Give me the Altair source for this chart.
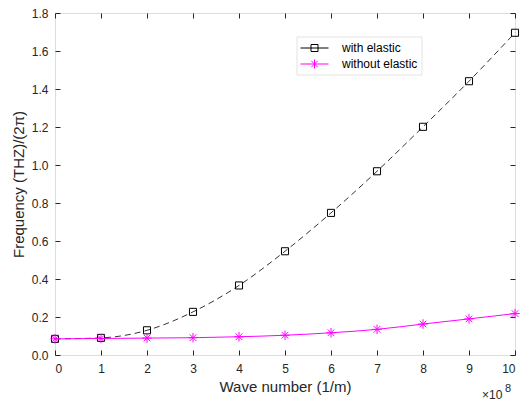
import altair as alt
import pandas as pd

# ---- data ----
wave_number = [0, 1, 2, 3, 4, 5, 6, 7, 8, 9, 10]          # x 1e8 1/m
with_elastic = [0.085, 0.090, 0.130, 0.227, 0.366, 0.546, 0.748, 0.967, 1.201, 1.441, 1.696]
without_elastic = [0.085, 0.087, 0.089, 0.091, 0.096, 0.104, 0.117, 0.135, 0.163, 0.190, 0.218]
series_names = ["with elastic", "without elastic"]
x_ticks = [0, 1, 2, 3, 4, 5, 6, 7, 8, 9, 10]
y_ticks = [0, 0.2, 0.4, 0.6, 0.8, 1.0, 1.2, 1.4, 1.6, 1.8]
x_tick_labels = ["0", "1", "2", "3", "4", "5", "6", "7", "8", "9", "10"]

df = pd.DataFrame({
    "k": wave_number + wave_number,
    "f": with_elastic + without_elastic,
    "series": [series_names[0]] * len(wave_number) + [series_names[1]] * len(wave_number),
})

W, H = 460, 342
FONT = "Liberation Sans"
AX = "#262626"
MAGENTA = "#ff00ff"

xscale = alt.Scale(domain=[0, 10], nice=False, zero=False)
yscale = alt.Scale(domain=[0, 1.8], nice=False, zero=False)

x_main = alt.X("k:Q", scale=xscale, axis=alt.Axis(
    orient="bottom", values=x_ticks, offset=-5, tickSize=5, tickColor=AX, tickWidth=1,
    domain=False, grid=False, labelPadding=8, labelFont=FONT, labelFontSize=12,
    labelColor=AX, labelExpr="datum.value", title="Wave number (1/m)", titleFont=FONT,
    titleFontSize=15, titleFontWeight="normal", titleColor=AX, titleBaseline="alphabetic",
    titleX=W / 2, titleY=41))
y_main = alt.Y("f:Q", scale=yscale, axis=alt.Axis(
    orient="left", values=y_ticks, offset=-5, tickSize=5, tickColor=AX, tickWidth=1,
    domain=False, grid=False, labelPadding=7, labelFont=FONT, labelFontSize=12,
    labelColor=AX, title="Frequency (THZ)/(2π)", titleFont=FONT, titleFontSize=15,
    titleFontWeight="normal", titleColor=AX, titleBaseline="alphabetic",
    titleAngle=270, titleX=-37, titleY=H / 2))

x_top = alt.X("k:Q", scale=xscale, axis=alt.Axis(
    orient="top", values=x_ticks, offset=-5, tickSize=5, tickColor=AX, tickWidth=1,
    domain=False, grid=False, labels=False, title=None))
y_right = alt.Y("f:Q", scale=yscale, axis=alt.Axis(
    orient="right", values=y_ticks, offset=-5, tickSize=5, tickColor=AX, tickWidth=1,
    domain=False, grid=False, labels=False, title=None))

x_none = alt.X("k:Q", scale=xscale, axis=None)
y_none = alt.Y("f:Q", scale=yscale, axis=None)

base = alt.Chart(df)
w_el = base.transform_filter(alt.datum.series == series_names[0])
wo_el = base.transform_filter(alt.datum.series == series_names[1])

line_w = w_el.mark_line(color="black", strokeWidth=0.8, strokeDash=[6, 4],
                        interpolate="monotone").encode(x=x_main, y=y_main)
pts_w = w_el.mark_point(shape="square", size=50, filled=False, color="black",
                        strokeWidth=1, opacity=1).encode(x=x_top, y=y_right)

line_wo = wo_el.mark_line(color=MAGENTA, strokeWidth=1,
                          interpolate="monotone").encode(x=x_none, y=y_none)
ASTER = "M-1,0L1,0M0,-1L0,1M-0.7,-0.7L0.7,0.7M-0.7,0.7L0.7,-0.7"
pts_wo = wo_el.mark_point(shape=ASTER, size=90, filled=False, color=MAGENTA,
                          strokeWidth=1, opacity=1).encode(x=x_none, y=y_none)

# legend symbols: line + marker
LEG_SQ = "M-2,0L2,0M-0.5,-0.5L0.5,-0.5L0.5,0.5L-0.5,0.5Z"
LEG_AS = "M-2,0L2,0M0,-0.64L0,0.64M-0.46,-0.46L0.46,0.46M-0.46,0.46L0.46,-0.46"
legend_layer = base.transform_filter("false").mark_point(
    filled=False, size=196, strokeWidth=1, opacity=1).encode(
    color=alt.Color("series:N", scale=alt.Scale(domain=series_names, range=["black", MAGENTA]),
                    legend=alt.Legend(title=None, orient="none", legendX=241.5, legendY=23.5,
                                      symbolSize=196, symbolStrokeWidth=1, symbolOffset=6.5,
                                      labelOffset=20, padding=4, rowPadding=2,
                                      labelFont=FONT, labelFontSize=12, labelColor="black",
                                      strokeColor="#e3e3e3", fillColor="white",
                                      symbolFillColor="transparent")),
    shape=alt.Shape("series:N", scale=alt.Scale(domain=series_names, range=[LEG_SQ, LEG_AS]),
                    legend=alt.Legend(title=None, orient="none", legendX=241.5, legendY=23.5,
                                      symbolSize=196, symbolStrokeWidth=1, symbolOffset=6.5,
                                      labelOffset=20, padding=4, rowPadding=2,
                                      labelFont=FONT, labelFontSize=12, labelColor="black",
                                      strokeColor="#e3e3e3", fillColor="white",
                                      symbolFillColor="transparent")),
)

exp_base = alt.Chart(pd.DataFrame({"t": ["×10"]})).mark_text(
    font=FONT, fontSize=12, color=AX, align="left", baseline="alphabetic").encode(
    text="t:N", x=alt.value(427), y=alt.value(386))
exp_sup = alt.Chart(pd.DataFrame({"t": ["8"]})).mark_text(
    font=FONT, fontSize=11, color=AX, align="left", baseline="alphabetic").encode(
    text="t:N", x=alt.value(450), y=alt.value(379))

chart = alt.layer(line_w, pts_w, line_wo, pts_wo, legend_layer, exp_base, exp_sup).resolve_axis(
    x="independent", y="independent").properties(
    width=W, height=H,
    autosize=alt.AutoSizeParams(type="none"),
    padding={"left": 55, "top": 13, "right": 7, "bottom": 46},
).configure_view(stroke=AX, strokeWidth=1).configure(background="white")

chart.save("out.html", embed_options={"renderer": "svg", "actions": False})
